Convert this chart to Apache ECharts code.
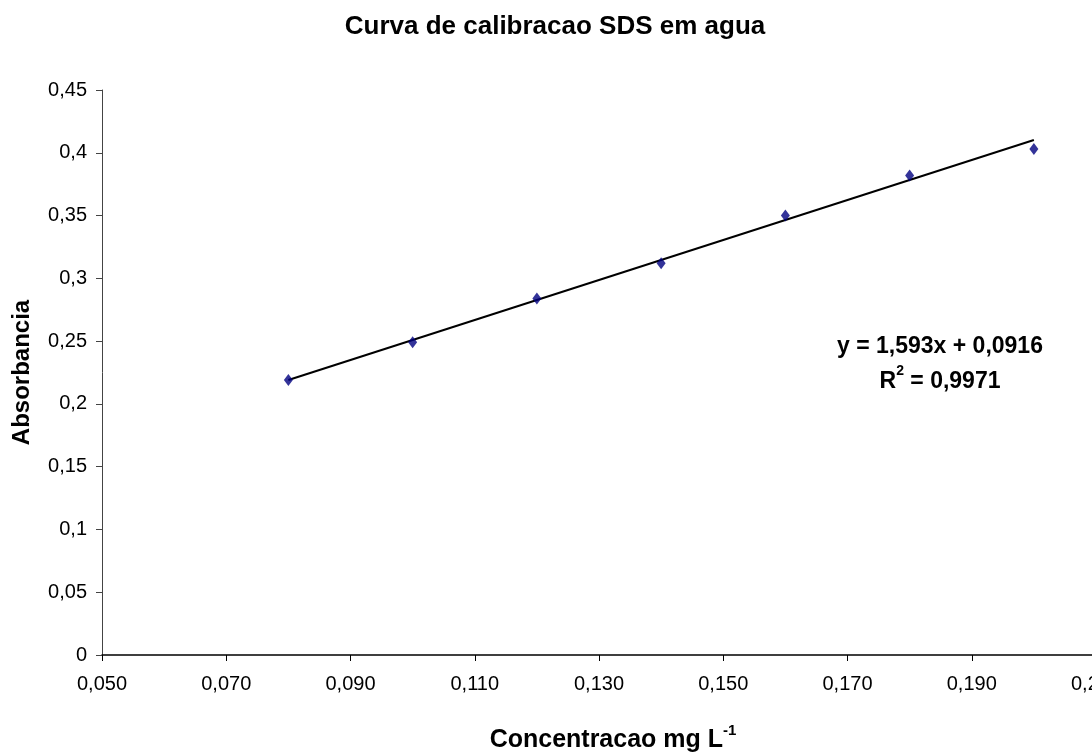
<!DOCTYPE html>
<html>
<head>
<meta charset="utf-8">
<script src="https://cdn.jsdelivr.net/npm/echarts@6/dist/echarts.min.js"></script>
<style>
  html, body { margin: 0; padding: 0; background: #fff; }
  #main { width: 1092px; height: 753px; }
</style>
</head>
<body>
<div id="main"></div>
<script>
var concentracao = [0.08, 0.10, 0.12, 0.14, 0.16, 0.18, 0.20];
var absorbancia = [0.219, 0.249, 0.284, 0.312, 0.350, 0.382, 0.403];
// linear trend line as printed on the chart
var slope = 1.593;
var intercept = 0.0916;
var trendX = [0.08, 0.20];

var myChart = echarts.init(document.getElementById('main'));

var pontos = concentracao.map(function (x, i) { return [x, absorbancia[i]]; });
var tendencia = trendX.map(function (x) { return [x, slope * x + intercept]; });

function virgula(v, casas) {
    var s = casas ? v.toFixed(casas) : String(Math.round(v * 100) / 100);
    return s.replace('.', ',');
}

var font = 'Liberation Sans, Arial, sans-serif';

var option = {
    animation: false,
    backgroundColor: '#fff',
    title: {
        text: 'Curva de calibracao SDS em agua',
        left: 550,
        top: 9,
        textAlign: 'center',
        textStyle: { fontFamily: font, fontSize: 26, fontWeight: 'bold', color: '#000' }
    },
    grid: { left: 102, right: -4, top: 90, bottom: 98, outerBoundsMode: 'none' },
    xAxis: {
        type: 'value',
        min: 0.05,
        max: 0.21,
        interval: 0.02,
        name: '{n|Concentracao mg L}{s|-1}',
        nameLocation: 'middle',
        nameGap: 68,
        nameTextStyle: {
            padding: [0, 0, 0, 28],
            rich: {
                n: { fontFamily: font, fontSize: 25, fontWeight: 'bold', color: '#000', lineHeight: 30, verticalAlign: 'bottom' },
                s: { fontFamily: font, fontSize: 15, fontWeight: 'bold', color: '#000', lineHeight: 18, verticalAlign: 'top' }
            }
        },
        axisLine: { lineStyle: { color: '#000', width: 1.5 } },
        axisTick: { length: 6, lineStyle: { color: '#000' } },
        axisLabel: {
            margin: 19,
            fontFamily: font, fontSize: 20, color: '#000',
            showMaxLabel: true,
            formatter: function (v) { return virgula(v, 3); }
        },
        splitLine: { show: false }
    },
    yAxis: {
        type: 'value',
        min: 0,
        max: 0.45,
        interval: 0.05,
        name: 'Absorbancia',
        nameLocation: 'middle',
        nameGap: 68,
        nameTextStyle: { fontFamily: font, fontSize: 24, fontWeight: 'bold', color: '#000' },
        axisLine: { show: true, lineStyle: { color: '#444', width: 1 } },
        axisTick: { show: true, length: 6, lineStyle: { color: '#444' } },
        axisLabel: {
            margin: 15,
            fontFamily: font, fontSize: 20, color: '#000',
            formatter: function (v) { return virgula(v); }
        },
        splitLine: { show: false }
    },
    series: [
        {
            name: 'tendencia',
            type: 'line',
            data: tendencia,
            symbol: 'none',
            lineStyle: { color: '#000', width: 2 },
            z: 2
        },
        {
            name: 'amostras',
            type: 'scatter',
            data: pontos,
            symbol: 'diamond',
            symbolSize: [9, 12],
            itemStyle: { color: '#000080' },
            z: 3
        }
    ],
    graphic: [
        {
            type: 'text',
            x: 940,
            y: 329,
            style: {
                text: '{n|y = 1,593x + 0,0916}\n{n|R}{s|2}{n| = 0,9971}',
                align: 'center',
                verticalAlign: 'top',
                rich: {
                    n: { fontFamily: font, fontSize: 23, fontWeight: 'bold', fill: '#000', lineHeight: 35, verticalAlign: 'middle' },
                    s: { fontFamily: font, fontSize: 14, fontWeight: 'bold', fill: '#000', lineHeight: 22, verticalAlign: 'top' }
                }
            }
        }
    ]
};
myChart.setOption(option);
</script>
</body>
</html>
